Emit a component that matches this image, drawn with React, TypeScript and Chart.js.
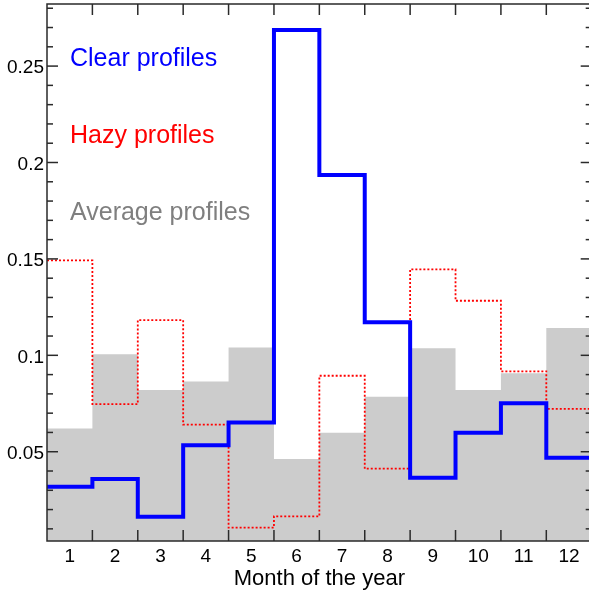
import React, { useEffect, useRef } from "react";
import { Chart, registerables } from "chart.js";

Chart.register(...registerables);

const months = [1, 2, 3, 4, 5, 6, 7, 8, 9, 10, 11, 12];
const clearProfiles = [0.0318, 0.0358, 0.0163, 0.0533, 0.0652, 0.2687, 0.1935, 0.1171, 0.0365, 0.0599, 0.0752, 0.0469];
const hazyProfiles = [0.1492, 0.0747, 0.1183, 0.0641, 0.0106, 0.0165, 0.0894, 0.0412, 0.1446, 0.1283, 0.0917, 0.0722];
const averageProfiles = [0.0621, 0.1005, 0.082, 0.0864, 0.1041, 0.0462, 0.0599, 0.0785, 0.1036, 0.082, 0.0907, 0.1142];
const seriesLabels = ["Clear profiles", "Hazy profiles", "Average profiles"];
const yTickValues = [0.05, 0.1, 0.15, 0.2, 0.25];
const yTickLabels = ["0.05", "0.1", "0.15", "0.2", "0.25"];
const xTitle = "Month of the year";
const yMin = 0.0037;
const yMax = 0.2822;
const yMinorStep = 0.01;

const FONT = "'Liberation Sans', Arial, Helvetica, sans-serif";

function stepData(values: number[]) {
  const pts = months.map((m, i) => ({ x: m - 0.5, y: values[i] }));
  pts.push({ x: months[months.length - 1] + 0.5, y: values[values.length - 1] });
  return pts;
}

const framePlugin = {
  id: "frame",
  afterDatasetsDraw(chart: any) {
    const { ctx, chartArea } = chart;
    const { left, right, top, bottom } = chartArea;
    const x = chart.scales.x;
    const y = chart.scales.y;
    ctx.save();
    ctx.strokeStyle = "#2a2a2a";
    ctx.lineWidth = 1.5;
    const line = (x1: number, y1: number, x2: number, y2: number) => {
      ctx.beginPath();
      ctx.moveTo(x1, y1);
      ctx.lineTo(x2, y2);
      ctx.stroke();
    };
    for (let i = 1; i < months.length; i++) {
      const px = x.getPixelForValue(months[i] - 0.5);
      line(px, bottom, px, bottom - 11);
      line(px, top, px, top + 11);
    }
    for (let k = 1; k * yMinorStep < yMax; k++) {
      const v = k * yMinorStep;
      if (v < yMin) continue;
      const major = k % 5 === 0;
      const len = major ? 11 : 6;
      const py = y.getPixelForValue(v);
      line(left, py, left + len, py);
      line(right, py, right - len, py);
    }
    ctx.strokeRect(left, top, right - left, bottom - top);
    ctx.restore();
  },
  afterDraw(chart: any) {
    const { ctx, chartArea } = chart;
    ctx.save();
    ctx.font = `25px ${FONT}`;
    ctx.textAlign = "left";
    ctx.textBaseline = "alphabetic";
    const colors = ["#0000ff", "#ff0000", "#7f7f7f"];
    seriesLabels.forEach((lab, i) => {
      ctx.fillStyle = colors[i];
      ctx.fillText(lab, chartArea.left + 23, chartArea.top + 62 + i * 77);
    });
    ctx.restore();
  },
};

export default function App() {
  const ref = useRef<HTMLCanvasElement | null>(null);
  useEffect(() => {
    if (!ref.current) return;
    const chart = new Chart(ref.current, {
      type: "line",
      data: {
        datasets: [
          {
            label: seriesLabels[0],
            data: stepData(clearProfiles),
            stepped: "before",
            borderColor: "#0000ff",
            borderWidth: 4,
            pointRadius: 0,
            fill: false,
            order: 0,
            borderJoinStyle: "miter",
          },
          {
            label: seriesLabels[1],
            data: stepData(hazyProfiles),
            stepped: "before",
            borderColor: "#ff0000",
            borderWidth: 1.8,
            borderDash: [2, 2],
            pointRadius: 0,
            fill: false,
            order: 1,
          },
          {
            label: seriesLabels[2],
            data: stepData(averageProfiles),
            stepped: "before",
            borderColor: "rgba(0,0,0,0)",
            borderWidth: 0,
            backgroundColor: "#cccccc",
            pointRadius: 0,
            fill: "start",
            order: 2,
          },
        ],
      },
      options: {
        responsive: false,
        animation: false,
        events: [],
        layout: { padding: { top: 4, right: 8.3, left: 0, bottom: 0 } },
        plugins: {
          legend: { display: false },
          tooltip: { enabled: false },
        },
        scales: {
          x: {
            type: "linear",
            min: 0.5,
            max: 12.5,
            grid: { display: false, drawTicks: false },
            border: { display: false },
            afterBuildTicks: (scale: any) => {
              scale.ticks = months.map((m) => ({ value: m }));
            },
            afterFit: (scale: any) => {
              scale.height = 51;
              scale.paddingLeft = 0;
              scale.paddingRight = 0;
            },
            ticks: {
              autoSkip: false,
              maxRotation: 0,
              padding: 4,
              color: "#000",
              font: { family: FONT, size: 19 },
              callback: (v: any) => String(v),
            },
            title: {
              display: true,
              text: xTitle,
              color: "#000",
              font: { family: FONT, size: 22 },
              padding: { top: 0, bottom: 0 },
            },
          },
          y: {
            type: "linear",
            min: yMin,
            max: yMax,
            grid: { display: false, drawTicks: false },
            border: { display: false },
            afterBuildTicks: (scale: any) => {
              scale.ticks = yTickValues.map((v) => ({ value: v }));
            },
            afterFit: (scale: any) => {
              scale.width = 47;
              scale.paddingTop = 0;
              scale.paddingBottom = 0;
            },
            ticks: {
              autoSkip: false,
              padding: 3,
              labelOffset: 2,
              color: "#000",
              font: { family: FONT, size: 19 },
              callback: (_v: any, i: number) => yTickLabels[i],
            },
          },
        },
      },
      plugins: [framePlugin],
    } as any);
    return () => chart.destroy();
  }, []);
  return (
    <div style={{ position: "fixed", left: 0, top: 0, width: 589, height: 592, overflow: "hidden", background: "#fff" }}>
      <canvas ref={ref} width={600} height={592} style={{ display: "block" }} />
    </div>
  );
}
